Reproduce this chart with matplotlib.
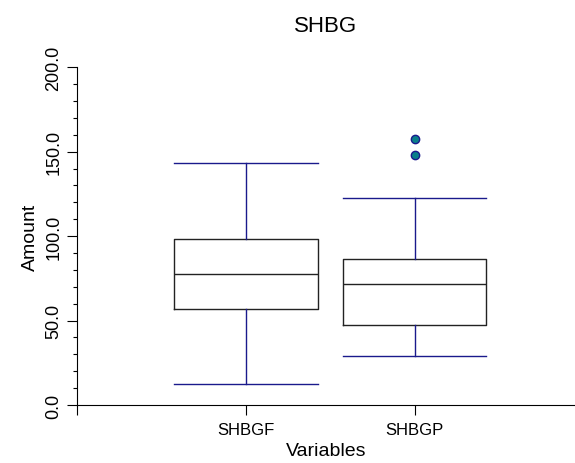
import matplotlib
matplotlib.use("Agg")
import matplotlib.pyplot as plt
from matplotlib.ticker import MultipleLocator, FormatStrFormatter

plt.rcParams['font.family'] = ['Liberation Sans', 'DejaVu Sans']

# summary statistics per variable
variables = ["SHBGF", "SHBGP"]
whisker_low = [12.5, 29.0]
q1 = [57.0, 47.5]
medians = [77.7, 71.8]
q3 = [98.5, 86.6]
whisker_high = [143.0, 122.8]
outliers = [[], [157.3, 147.8]]

stats = []
for i, name in enumerate(variables):
    stats.append(dict(label=name, whislo=whisker_low[i], q1=q1[i], med=medians[i],
                      q3=q3[i], whishi=whisker_high[i], fliers=outliers[i]))

fig = plt.figure(figsize=(5.75, 4.64), dpi=100)
ax = fig.add_axes([0.134, 0.125, 0.866, 0.728])

navy = "#1a1a8c"
ax.bxp(stats, positions=[1, 2], widths=0.85, showfliers=True,
       boxprops=dict(color="#222222", linewidth=1.0),
       medianprops=dict(color="#222222", linewidth=1.0),
       whiskerprops=dict(color=navy, linewidth=1.0),
       capprops=dict(color=navy, linewidth=1.0),
       capwidths=0.85,
       flierprops=dict(marker="o", markerfacecolor="#0a7f8a", markeredgecolor=navy,
                       markersize=6, markeredgewidth=1.0))

ax.set_xlim(0, 2.95)
ax.set_ylim(0, 200)
ax.set_xticks([0, 1, 2])
ax.set_xticklabels(["", "SHBGF", "SHBGP"])
ax.yaxis.set_major_locator(MultipleLocator(50))
ax.yaxis.set_minor_locator(MultipleLocator(10))
ax.yaxis.set_major_formatter(FormatStrFormatter("%.1f"))
for lab in ax.get_yticklabels():
    lab.set_rotation(90)
    lab.set_va("center")

ax.tick_params(axis="both", which="major", length=7, width=0.8, direction="out")
ax.tick_params(axis="x", labelsize=12, pad=5)
ax.tick_params(axis="y", labelsize=13, pad=3.5)
ax.tick_params(axis="y", which="minor", length=3, width=0.8)

ax.spines["top"].set_visible(False)
ax.spines["right"].set_visible(False)
ax.spines["left"].set_linewidth(0.8)
ax.spines["bottom"].set_linewidth(0.8)

ax.set_title("SHBG", fontsize=16, pad=26)
ax.set_xlabel("Variables", fontsize=14, labelpad=4)
ax.set_ylabel("Amount", fontsize=14, labelpad=5)

fig.savefig("out.png", dpi=100)
